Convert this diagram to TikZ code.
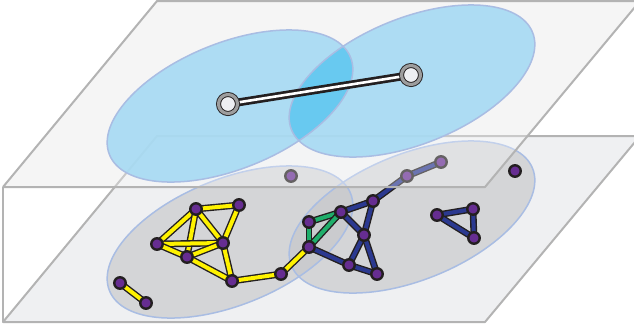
\documentclass[tikz,border=0pt]{standalone}
\usetikzlibrary{calc}
\definecolor{planeedge}{HTML}{B3B3B3}
\definecolor{lowerfill}{HTML}{EFF0F2}
\definecolor{upperfill}{HTML}{F1F1F2}
\definecolor{greyell}{HTML}{C6C7CA}
\definecolor{ellborder}{HTML}{A9BDE3}
\definecolor{blueA}{HTML}{A6DAF3}
\definecolor{blueB}{HTML}{62C8F0}
\definecolor{ylw}{HTML}{FFF200}
\definecolor{blu}{HTML}{2B3990}
\definecolor{grn}{HTML}{1FAE6B}
\definecolor{purp}{HTML}{662D91}
\definecolor{dark}{HTML}{231F20}
\definecolor{ring}{HTML}{9D9D9D}
\definecolor{ufill}{HTML}{EEEFF2}
\pgfdeclarelayer{lzero}
\pgfdeclarelayer{lone}
\pgfdeclarelayer{lthree}
\pgfdeclarelayer{lfour}
\pgfsetlayers{lzero,lone,main,lthree,lfour}
\tikzset{
  planeline/.style={draw=planeedge, line width=2pt, line join=round},
  lnode/.style={circle, fill=purp, draw=dark, line width=2.4pt, inner sep=0pt, minimum size=11.5pt},
  unode/.style={circle, fill=ufill, draw=dark, double=ring, double distance=3.2pt, line width=0.9pt, inner sep=0pt, minimum size=19pt},
  yedge/.style={draw=dark, line width=1.4pt, double=ylw, double distance=4pt},
  bedge/.style={draw=dark, line width=1.4pt, double=blu, double distance=4pt},
  gedge/.style={draw=dark, line width=1.4pt, double=grn, double distance=4pt},
  uedge/.style={draw=dark, line width=2.7pt, double=white, double distance=2.6pt},
  greyellipse/.style={fill=greyell, fill opacity=0.65},
  ellline/.style={draw=ellborder, line width=1.5pt},
}
\begin{document}
\begin{tikzpicture}[x=1pt, y=-1pt]
\useasboundingbox (0,0) rectangle (634,333);
% ---------- lower layer ----------
\begin{pgfonlayer}{lzero}
  \fill[upperfill] (157,1) -- (640,1) -- (485,187) -- (3,187) -- cycle;
  \fill[lowerfill] (157,136) -- (640,136) -- (485,322) -- (3,322) -- cycle;
  \draw[planeline] (3,187) -- (3,322);
  \draw[planeline] (640,136) -- (157,136) -- (3,322) -- (485,322) -- (640,136);
  \fill[greyellipse, rotate around={22:(230,242)}] (230,242) ellipse [x radius=130pt, y radius=63pt];
  \fill[greyellipse, rotate around={22:(412,217)}] (412,217) ellipse [x radius=130pt, y radius=63pt];
  \draw[ellline, rotate around={22:(230,242)}] (230,242) ellipse [x radius=130pt, y radius=63pt];
  \draw[ellline, rotate around={22:(412,217)}] (412,217) ellipse [x radius=130pt, y radius=63pt];
\end{pgfonlayer}
% lower nodes
\node[lnode] (A) at (196,209) {};
\node[lnode] (B) at (239,205) {};
\node[lnode] (C) at (157,244) {};
\node[lnode] (D) at (223,243) {};
\node[lnode] (E) at (187,257) {};
\node[lnode] (F) at (232,281) {};
\node[lnode] (G) at (281,274) {};
\node[lnode] (H) at (120,283) {};
\node[lnode] (I) at (146,303) {};
\node[lnode] (J) at (309,247) {};
\node[lnode] (K) at (309,222) {};
\node[lnode] (L) at (341,212) {};
\node[lnode] (M) at (373,201) {};
\node[lnode] (N) at (364,235) {};
\node[lnode] (O) at (349,265) {};
\node[lnode] (P) at (377,274) {};
\node[lnode] (Q) at (407,176) {};
\node[lnode] (R) at (441,162) {};
\node[lnode] (S) at (291,176) {};
\node[lnode] (T) at (437,215) {};
\node[lnode] (U) at (473,209) {};
\node[lnode] (V) at (474,238) {};
\node[lnode] (W) at (515,171) {};
\begin{pgfonlayer}{lone}
  \draw[yedge] (A.center) -- (B.center);
  \draw[yedge] (A.center) -- (C.center);
  \draw[yedge] (A.center) -- (D.center);
  \draw[yedge] (A.center) -- (E.center);
  \draw[yedge] (B.center) -- (D.center);
  \draw[yedge] (C.center) -- (D.center);
  \draw[yedge] (C.center) -- (E.center);
  \draw[yedge] (E.center) -- (D.center);
  \draw[yedge] (D.center) -- (F.center);
  \draw[yedge] (E.center) -- (F.center);
  \draw[yedge] (F.center) -- (G.center);
  \draw[yedge] (G.center) -- (J.center);
  \draw[yedge] (H.center) -- (I.center);
  \draw[gedge] (K.center) -- (J.center);
  \draw[gedge] (K.center) -- (L.center);
  \draw[gedge] (J.center) -- (L.center);
  \draw[bedge] (L.center) -- (M.center);
  \draw[bedge] (L.center) -- (N.center);
  \draw[bedge] (M.center) -- (N.center);
  \draw[bedge] (J.center) -- (O.center);
  \draw[bedge] (O.center) -- (N.center);
  \draw[bedge] (O.center) -- (P.center);
  \draw[bedge] (N.center) -- (P.center);
  \draw[bedge] (M.center) -- (Q.center);
  \draw[bedge] (Q.center) -- (R.center);
  \draw[bedge] (T.center) -- (U.center);
  \draw[bedge] (U.center) -- (V.center);
  \draw[bedge] (T.center) -- (V.center);
\end{pgfonlayer}
% ---------- upper layer ----------
\begin{pgfonlayer}{lthree}
  \fill[white, opacity=0.3] (157,1) -- (640,1) -- (485,187) -- (3,187) -- cycle;
  \draw[planeline] (3,187) -- (157,1) -- (640,1);
  \draw[planeline] (640,1) -- (485,187) -- (3,187);
  \fill[blueA, opacity=0.9, rotate around={22:(230,106)}] (230,106) ellipse [x radius=130pt, y radius=63pt];
  \fill[blueA, opacity=0.9, rotate around={22:(412,81)}] (412,81) ellipse [x radius=130pt, y radius=63pt];
  \begin{scope}
    \clip[rotate around={22:(230,106)}] (230,106) ellipse [x radius=130pt, y radius=63pt];
    \fill[blueB, opacity=0.9, rotate around={22:(412,81)}] (412,81) ellipse [x radius=130pt, y radius=63pt];
  \end{scope}
  \draw[ellline, rotate around={22:(230,106)}] (230,106) ellipse [x radius=130pt, y radius=63pt];
  \draw[ellline, rotate around={22:(412,81)}] (412,81) ellipse [x radius=130pt, y radius=63pt];
\end{pgfonlayer}
\begin{pgfonlayer}{lfour}
  \node[unode] (X) at (228,104) {};
  \node[unode] (Y) at (411,75) {};
\end{pgfonlayer}
\begin{pgfonlayer}{lthree}
  \draw[uedge] (X.center) -- (Y.center);
\end{pgfonlayer}
\end{tikzpicture}
\end{document}
